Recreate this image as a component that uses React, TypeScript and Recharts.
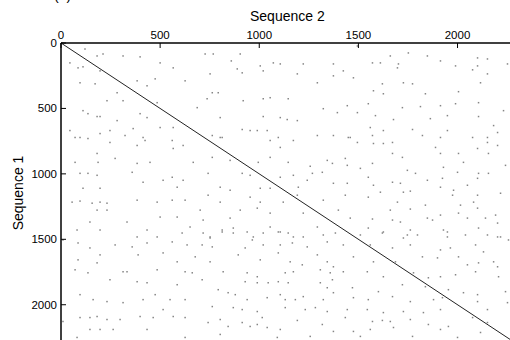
import { ScatterChart, Scatter, XAxis, YAxis, ReferenceLine } from 'recharts';

// positions in sequence 2 / sequence 1 (residues) of matched words
const seqLength = 2300;
const axisTicks = [0, 500, 1000, 1500, 2000];
const diagonal = [0, 2300];

const hitPairs: [number, number][] = [
  [121, 46], [182, 99], [212, 84], [313, 99], [399, 106], [500, 152], [45, 152], [86, 190], [111, 182], [197, 213],
  [96, 304], [172, 312], [384, 289], [434, 327], [475, 274], [283, 380], [232, 441], [313, 441], [485, 456], [111, 517],
  [136, 540], [182, 562], [197, 562], [283, 593], [399, 540], [434, 570], [45, 669], [247, 669], [364, 654], [96, 722],
  [197, 692], [414, 722], [500, 646],
  [727, 84], [768, 84], [904, 84], [859, 137], [1005, 175], [1071, 152], [1106, 160], [1222, 160], [1374, 160], [566, 190],
  [626, 289], [752, 236], [889, 198], [914, 228], [1020, 213], [1192, 236], [1293, 304], [1374, 251], [763, 380], [793, 380],
  [737, 426], [919, 441], [1020, 426], [1055, 418], [1146, 426], [1323, 502], [687, 494], [803, 570], [1020, 562], [1106, 570],
  [1141, 585], [1192, 593], [990, 669], [914, 661], [1096, 722], [803, 722], [566, 646], [1394, 532],
  [1495, 23], [1661, 99], [1752, 76], [1571, 152], [1611, 152], [1702, 160], [1848, 99], [1914, 137], [2101, 114], [2151, 122],
  [2101, 175], [2252, 160], [1424, 213], [1697, 190], [1990, 175], [2076, 205], [2151, 236], [1475, 266], [1621, 312], [1727, 304],
  [1773, 312], [2116, 304], [2005, 372], [1576, 365], [1838, 388], [1626, 388], [1444, 479], [1550, 464], [1722, 494], [1813, 486],
  [1914, 479], [1990, 464], [2106, 456], [2232, 517], [1495, 532], [1586, 555], [1677, 585], [1863, 578], [1949, 555], [2106, 562],
  [2182, 631], [1560, 646], [1773, 661], [1459, 722], [1914, 722], [2151, 722], [1626, 669],
  [71, 722], [136, 730], [247, 760], [323, 707], [384, 783], [424, 745], [182, 844], [273, 882], [71, 912], [187, 912],
  [384, 920], [449, 912], [136, 996], [182, 1011], [96, 996], [414, 1064], [515, 1049], [111, 1110], [197, 1110], [359, 988],
  [56, 1216], [96, 1208], [157, 1224], [197, 1216], [232, 1224], [384, 1201], [485, 1216], [182, 1277], [232, 1277], [146, 1368],
  [197, 1429], [333, 1368], [500, 1330], [81, 1429], [434, 1429], [384, 1482],
  [561, 745], [566, 806], [616, 783], [813, 722], [763, 707], [954, 669], [1040, 669], [1055, 745], [1106, 798], [1172, 745],
  [1293, 707], [1374, 707], [667, 912], [763, 874], [853, 897], [995, 912], [1055, 874], [1146, 912], [1257, 942], [1343, 897],
  [1369, 920], [561, 1026], [616, 1049], [742, 996], [914, 996], [954, 1011], [1106, 1026], [1172, 1011], [1268, 996], [1318, 988],
  [1242, 1049], [586, 1102], [803, 1102], [853, 1125], [1005, 1110], [1055, 1110], [1197, 1102], [1374, 1072], [561, 1201], [626, 1201],
  [742, 1163], [803, 1216], [954, 1178], [1005, 1216], [1121, 1216], [1192, 1163], [1323, 1201], [586, 1330], [702, 1277], [853, 1338],
  [904, 1277], [990, 1262], [1055, 1300], [1222, 1300], [1399, 1277], [651, 1406], [717, 1353], [813, 1429], [869, 1414], [1055, 1406],
  [1106, 1444], [1293, 1406], [752, 1482], [970, 1482], [1172, 1482], [1323, 1467],
  [1449, 722], [1495, 760], [1571, 707], [1576, 768], [1626, 768], [1672, 760], [1823, 707], [1949, 669], [2076, 722], [2151, 760],
  [2202, 684], [1434, 882], [1571, 920], [1672, 844], [1722, 874], [1889, 798], [1914, 844], [2005, 844], [2101, 806], [2156, 844],
  [2202, 783], [1444, 935], [1510, 958], [1747, 973], [1788, 996], [1929, 950], [2000, 988], [2030, 912], [2106, 996], [2156, 996],
  [2242, 935], [1550, 1026], [1672, 1064], [1848, 1049], [1924, 1034], [2101, 1034], [1444, 1072], [1576, 1087], [1712, 1072], [1914, 1102],
  [1980, 1125], [2050, 1087], [2217, 1148], [1611, 1140], [1727, 1140], [1762, 1132], [1434, 1163], [1550, 1178], [1975, 1163], [2101, 1163],
  [1697, 1216], [1838, 1239], [2015, 1239], [2081, 1216], [1661, 1277], [1762, 1269], [1914, 1315], [2005, 1300], [2101, 1262], [2192, 1315],
  [1459, 1338], [1571, 1345], [1672, 1353], [1712, 1368], [1848, 1338], [1874, 1353], [2050, 1338], [2141, 1338], [2202, 1376], [1550, 1414],
  [1626, 1444], [1762, 1429], [1929, 1429], [2106, 1414], [1727, 1490], [1949, 1482], [2202, 1482],
  [10, 1505], [86, 1528], [146, 1566], [197, 1619], [273, 1543], [359, 1558], [389, 1619], [434, 1528], [485, 1482], [515, 1604],
  [71, 1733], [86, 1657], [136, 1756], [182, 1680], [313, 1748], [333, 1748], [485, 1733], [384, 1824], [434, 1832], [247, 1809],
  [96, 1923], [162, 1961], [232, 1976], [313, 1984], [414, 1961], [475, 1923], [515, 2037], [96, 2098], [146, 2098], [182, 2090],
  [232, 2113], [298, 2113], [399, 2090], [465, 2098], [146, 2189], [197, 2189], [263, 2189], [81, 2250], [434, 2189], [10, 2128],
  [611, 1452], [717, 1452], [752, 1490], [813, 1444], [869, 1452], [939, 1444], [1020, 1452], [1096, 1444], [1146, 1452], [1222, 1482],
  [1384, 1452], [561, 1520], [636, 1543], [712, 1543], [763, 1558], [929, 1566], [965, 1505], [1020, 1543], [1106, 1543], [1167, 1528],
  [1242, 1558], [1343, 1520], [586, 1672], [677, 1634], [752, 1672], [894, 1619], [1005, 1657], [1096, 1604], [1156, 1672], [1217, 1695],
  [1293, 1619], [1343, 1672], [1374, 1710], [626, 1748], [662, 1756], [818, 1748], [939, 1756], [990, 1786], [1131, 1756], [1172, 1748],
  [1308, 1733], [1358, 1756], [586, 1847], [712, 1809], [929, 1824], [990, 1832], [1045, 1832], [1096, 1824], [1146, 1832], [1308, 1832],
  [1343, 1870], [1369, 1809], [550, 1961], [626, 1961], [793, 1885], [843, 1908], [879, 1923], [939, 1961], [1040, 1946], [1106, 1923],
  [1131, 1961], [1182, 1961], [1222, 1938], [1323, 1961], [1374, 1908], [566, 2090], [626, 2098], [763, 2014], [803, 2113], [869, 2022],
  [914, 2037], [990, 2052], [1015, 2098], [1131, 2022], [1192, 2120], [1232, 2037], [1283, 2022], [1343, 2052], [1318, 2151], [1374, 2204],
  [742, 2136], [843, 2166], [914, 2136], [954, 2166], [990, 2151], [1040, 2174], [1106, 2189], [626, 2250], [803, 2227], [1091, 2250],
  [1257, 2242],
  [1510, 1467], [1621, 1452], [1747, 1467], [1798, 1467], [1949, 1444], [2040, 1467], [2151, 1467], [2217, 1482], [1424, 1543], [1560, 1543],
  [1672, 1566], [1762, 1543], [1914, 1581], [1964, 1566], [2091, 1543], [2131, 1596], [2182, 1672], [2257, 1505], [1475, 1634], [1576, 1672],
  [1687, 1672], [1823, 1634], [1899, 1642], [2005, 1634], [2050, 1695], [2106, 1680], [2202, 1710], [1424, 1748], [1545, 1748], [1626, 1786],
  [1778, 1756], [1853, 1794], [1914, 1786], [1990, 1771], [2091, 1748], [2207, 1786], [1470, 1870], [1601, 1900], [1722, 1847], [1838, 1862],
  [1954, 1885], [2030, 1908], [2101, 1923], [2242, 1900], [1475, 1946], [1550, 1961], [1672, 1938], [1762, 1976], [1879, 1961], [1924, 1946],
  [2101, 1976], [2252, 1984], [1444, 2037], [1545, 2037], [1626, 2060], [1727, 2052], [1828, 2060], [1914, 2037], [2151, 2037], [1434, 2098],
  [1571, 2128], [1621, 2120], [1661, 2128], [1762, 2113], [1853, 2151], [1954, 2166], [2076, 2098], [2151, 2136], [1475, 2204], [1560, 2189],
  [1677, 2174], [1773, 2242], [1914, 2189], [2000, 2250], [2116, 2212], [1510, 2242],
];

const hits = hitPairs.map(([s2, s1]) => ({ s2, s1 }));

const font = '"Liberation Sans", Arial, Helvetica, sans-serif';

const TopTick = (props: any) => {
  const { x, y, payload } = props;
  return (
    <g>
      <line x1={x} x2={x} y1={y} y2={y + 5} stroke="#000" strokeWidth={1} />
      <text x={x} y={y - 4} textAnchor="middle" fontSize={11.5} fontFamily={font} fill="#000">
        {payload.value}
      </text>
    </g>
  );
};

const LeftTick = (props: any) => {
  const { x, y, payload } = props;
  return (
    <g>
      <line x1={x} x2={x + 5} y1={y} y2={y} stroke="#000" strokeWidth={1} />
      <text x={x - 4} y={y + 4} textAnchor="end" fontSize={11.5} fontFamily={font} fill="#000">
        {payload.value}
      </text>
    </g>
  );
};

const HitDot = (props: any) => {
  const { cx, cy } = props;
  return <rect x={cx - 0.75} y={cy - 0.75} width={1.5} height={1.5} fill="#858585" />;
};

export default function App() {
  return (
    <div
      style={{
        position: 'fixed',
        left: 0,
        top: 0,
        width: 510,
        height: 340,
        overflow: 'hidden',
        background: '#fff',
        fontFamily: font,
      }}
    >
      <div style={{ position: 'absolute', left: 54, top: -12, fontSize: 14, lineHeight: '14px' }}>(a)</div>
      <div style={{ position: 'absolute', left: 250, top: 9, fontSize: 14, lineHeight: '14px' }}>Sequence 2</div>
      <div
        style={{
          position: 'absolute',
          left: 18,
          top: 193,
          fontSize: 14,
          lineHeight: '14px',
          whiteSpace: 'nowrap',
          transform: 'translate(-50%, -50%) rotate(-90deg)',
        }}
      >
        Sequence 1
      </div>
      <div style={{ position: 'absolute', left: 0, top: 0 }}>
        <ScatterChart width={517} height={344} margin={{ top: 0, right: 0, bottom: 0, left: 0 }}>
          <XAxis
            xAxisId={0}
            type="number"
            dataKey="s2"
            orientation="top"
            height={43}
            domain={[0, seqLength]}
            ticks={axisTicks}
            tickSize={0}
            tickMargin={0}
            tickLine={false}
            tick={<TopTick />}
            axisLine={{ stroke: '#000', strokeWidth: 1.5 }}
            allowDataOverflow
            interval={0}
          />
          <YAxis
            yAxisId={0}
            type="number"
            dataKey="s1"
            reversed
            width={61}
            domain={[0, seqLength]}
            ticks={axisTicks}
            tickSize={0}
            tickMargin={0}
            tickLine={false}
            tick={<LeftTick />}
            axisLine={{ stroke: '#000', strokeWidth: 1.5 }}
            allowDataOverflow
            interval={0}
          />
          <Scatter data={hits} shape={<HitDot />} isAnimationActive={false} />
          <ReferenceLine
            segment={[
              { x: diagonal[0], y: diagonal[0] },
              { x: diagonal[1], y: diagonal[1] },
            ]}
            stroke="#222"
            strokeWidth={1}
            ifOverflow="visible"
          />
        </ScatterChart>
      </div>
    </div>
  );
}
